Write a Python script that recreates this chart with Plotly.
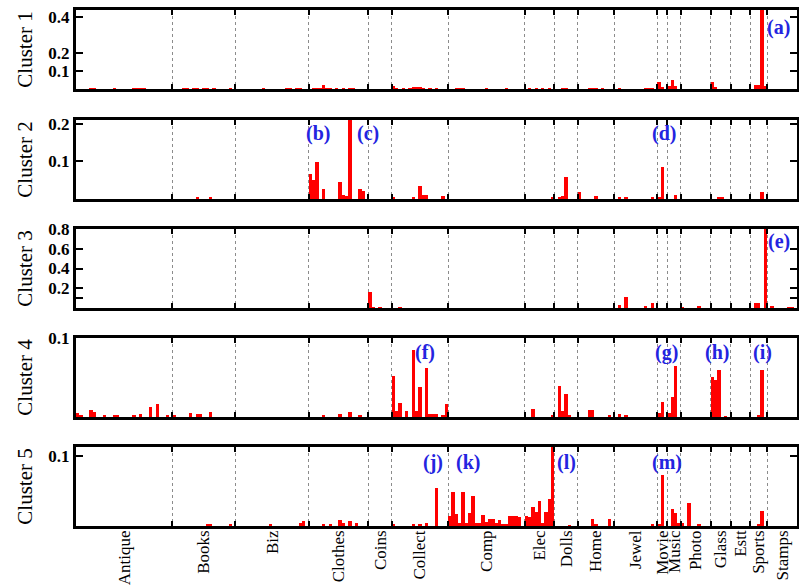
import numpy as np
import plotly.graph_objects as go

# Top-level categories and how many sub-categories each one spans
categories = ["Antique", "Books", "Biz", "Clothes", "Coins", "Collect", "Comp", "Elec",
              "Dolls", "Home", "Jewel", "Movie", "Music", "Photo", "Glass", "Estt",
              "Sports", "Stamps"]
cat_sizes = [29, 19, 22, 18, 7, 17, 23, 9, 7, 11, 13, 3, 4, 9, 6, 6, 5, 9]

# Per-cluster share of each sub-category (sparse: index -> share)
c1_idx = [4, 5, 11, 17, 18, 19, 20, 32, 33, 35, 36, 38, 39, 41, 46, 56, 63, 64, 66, 67,
          71, 72, 73, 74, 75, 76, 78, 80, 82, 83, 95, 96, 98, 100, 101, 102, 103, 104, 106, 108,
          114, 115, 116, 123, 129, 136, 138, 140, 142, 146, 147, 154, 155, 156, 158,
          163, 171, 172, 173, 175, 176, 178, 179, 180, 191, 192, 204, 205, 206, 207]
c1_val = [0.003, 0.003, 0.003, 0.003, 0.003, 0.003, 0.003, 0.004, 0.004, 0.004, 0.004, 0.004, 0.004, 0.003,
          0.003, 0.003, 0.003, 0.003, 0.003, 0.003,
          0.004, 0.004, 0.004, 0.025, 0.005, 0.004, 0.004, 0.004, 0.004, 0.004,
          0.015, 0.004, 0.004, 0.005, 0.006, 0.008, 0.006, 0.004, 0.004, 0.003,
          0.003, 0.003, 0.003, 0.003, 0.003, 0.003, 0.003, 0.003, 0.003, 0.003, 0.003,
          0.003, 0.003, 0.003, 0.003,
          0.003, 0.003, 0.003, 0.003, 0.040, 0.012, 0.015, 0.052, 0.015, 0.040, 0.010,
          0.020, 0.020, 0.460, 0.015]

c2_idx = [36, 40, 70, 71, 72, 74, 79, 80, 81, 82, 85, 86, 95, 101, 103, 104, 105, 110,
          143, 145, 146, 147, 151, 156, 163, 165, 173, 175, 176, 180, 193, 194, 206]
c2_val = [0.005, 0.005, 0.066, 0.050, 0.098, 0.026, 0.045, 0.010, 0.008, 0.250, 0.026, 0.020,
          0.005, 0.005, 0.035, 0.010, 0.010, 0.008,
          0.004, 0.006, 0.008, 0.058, 0.019, 0.008, 0.006, 0.005, 0.003, 0.003, 0.085, 0.010,
          0.005, 0.004, 0.019]

c3_idx = [88, 89, 91, 97, 163, 165, 171, 173, 182, 187, 204, 205, 207, 209, 214, 215]
c3_val = [0.165, 0.010, 0.010, 0.005, 0.035, 0.113, 0.015, 0.050, 0.010, 0.012,
          0.050, 0.050, 0.850, 0.020, 0.010, 0.010]

c4_idx = [0, 1, 4, 5, 8, 11, 12, 17, 19, 22, 24, 27, 29, 34, 36, 37, 40, 74, 79, 82, 85,
          95, 96, 97, 99, 101, 102, 103, 105, 106, 107, 108, 110, 111, 137, 143,
          145, 146, 147, 148, 154, 155, 160, 163, 165, 175, 176, 178, 179, 180,
          191, 192, 193, 195, 205, 206]
c4_val = [0.0055, 0.002, 0.009, 0.006, 0.003, 0.003, 0.003, 0.003, 0.004, 0.013, 0.017, 0.003,
          0.002, 0.005, 0.004, 0.004, 0.006, 0.002, 0.004, 0.006, 0.003,
          0.052, 0.008, 0.018, 0.007, 0.085, 0.007, 0.038, 0.062, 0.004, 0.004, 0.004, 0.003, 0.016,
          0.010, 0.002, 0.039, 0.008, 0.029, 0.002, 0.009, 0.009, 0.003, 0.004, 0.003,
          0.005, 0.019, 0.005, 0.025, 0.064, 0.051, 0.047, 0.060, 0.001, 0.003, 0.059]

c5_idx = [39, 40, 46, 58, 67, 68, 74, 76, 79, 80, 82, 84, 95, 101, 103, 105, 108,
          112, 113, 114, 115, 116, 117, 118, 119, 120, 121, 122, 123, 124, 125, 126, 127,
          128, 129, 130, 131, 132, 133, 135, 136, 137, 138, 139, 140, 141, 142, 143,
          148, 155, 156, 160, 173, 175, 176, 179, 180, 181, 182, 184, 187, 205, 206]
c5_val = [0.003, 0.003, 0.002, 0.002, 0.004, 0.007, 0.002, 0.002, 0.009, 0.004, 0.007, 0.004,
          0.003, 0.003, 0.002, 0.004, 0.054,
          0.014, 0.049, 0.017, 0.004, 0.048, 0.005, 0.019, 0.043, 0.005, 0.004, 0.016, 0.006,
          0.010, 0.010, 0.004, 0.009, 0.002, 0.002, 0.014, 0.014, 0.014, 0.013,
          0.015, 0.013, 0.027, 0.020, 0.036, 0.005, 0.020, 0.039, 0.120,
          0.001, 0.010, 0.003, 0.010, 0.002, 0.003, 0.073, 0.024, 0.019, 0.004,
          0.004, 0.033, 0.002, 0.003, 0.021]

cluster_names = ["Cluster 1", "Cluster 2", "Cluster 3", "Cluster 4", "Cluster 5"]
y_max = [0.44, 0.21, 0.80, 0.10, 0.113]
y_tickvals = [[0.1, 0.2, 0.4], [0.1, 0.2], [0.1, 0.2, 0.4, 0.6, 0.8], [0.1], [0.1]]
y_ticktext = [["0.1", "0.2", "0.4"], ["0.1", "0.2"], ["", "0.2", "0.4", "0.6", "0.8"], ["0.1"], ["0.1"]]

# Panel labels: (cluster, sub-category position, height)
labels = ["(a)", "(b)", "(c)", "(d)", "(e)", "(f)", "(g)", "(h)", "(i)", "(j)", "(k)", "(l)", "(m)"]
label_cluster = [0, 1, 1, 1, 2, 3, 3, 3, 3, 4, 4, 4, 4]
label_x = [211.3, 72.8, 87.9, 177.0, 211.6, 105.0, 177.6, 193.0, 206.5, 107.5, 118.0, 147.5, 178.0]
label_y = [0.344, 0.173, 0.173, 0.173, 0.67, 0.082, 0.082, 0.082, 0.082, 0.091, 0.091, 0.091, 0.091]

series = [(c1_idx, c1_val), (c2_idx, c2_val), (c3_idx, c3_val), (c4_idx, c4_val), (c5_idx, c5_val)]

bounds = np.concatenate([[0], np.cumsum(cat_sizes)])
n_sub = int(bounds[-1])
centers = (bounds[:-1] + bounds[1:]) / 2.0

W, H = 799, 588
ML, MR, MT, MB = 76, 2, 10, 62
panel_h = 79
panel_tops = [10, 120, 229, 338, 447]
plot_h = H - MT - MB

SERIF = "Liberation Serif, Times New Roman, serif"
BLUE = "#2424e0"

fig = go.Figure()
layout = {}
for k, (idx, val) in enumerate(series):
    xn = "x" if k == 0 else f"x{k + 1}"
    yn = "y" if k == 0 else f"y{k + 1}"
    fig.add_trace(go.Bar(
        x=np.array(idx) + 0.5, y=val, width=1.0,
        marker=dict(color="#ff0000", line=dict(width=0)),
        xaxis=xn, yaxis=yn, showlegend=False, hoverinfo="skip",
    ))
    top_px = panel_tops[k]
    bot_px = top_px + panel_h
    dom = [(H - MB - bot_px) / plot_h, (H - MB - top_px) / plot_h]
    # category boundaries: inside ticks top and bottom plus dotted separators
    layout["xaxis" if k == 0 else f"xaxis{k + 1}"] = dict(
        domain=[0, 1], anchor=yn, range=[0, n_sub], fixedrange=True,
        showline=True, linewidth=3, linecolor="black", mirror="ticks",
        tickmode="array", tickvals=bounds[1:-1], showticklabels=False,
        ticks="inside", ticklen=5, tickwidth=2, tickcolor="black",
        showgrid=True, gridcolor="#8c8c8c", griddash="dot", gridwidth=1,
        zeroline=False, automargin=False,
    )
    layout["yaxis" if k == 0 else f"yaxis{k + 1}"] = dict(
        domain=dom, anchor=xn, range=[0, y_max[k]], fixedrange=True,
        showline=True, linewidth=3, linecolor="black", mirror="ticks",
        tickmode="array", tickvals=y_tickvals[k], ticktext=y_ticktext[k],
        ticks="inside", ticklen=7, tickwidth=2, tickcolor="black",
        tickfont=dict(family=SERIF, size=17, color="black", weight="bold"),
        showgrid=False, zeroline=False, automargin=False,
        title=dict(text=cluster_names[k], font=dict(family=SERIF, size=21, color="black"),
                   standoff=10),
    )

# category names under the bottom panel, centred on each block
fig.add_trace(go.Scatter(
    x=centers, y=[0] * len(centers), mode="markers", marker=dict(opacity=0),
    xaxis="x6", yaxis="y5", showlegend=False, hoverinfo="skip",
))
layout["xaxis6"] = dict(
    overlaying="x5", anchor="y5", side="bottom", range=[0, n_sub], fixedrange=True,
    tickmode="array", tickvals=centers, ticktext=categories, ticks="",
    tickangle=-90, tickfont=dict(family=SERIF, size=17, color="black"),
    showline=False, showgrid=False, zeroline=False, automargin=False,
)

annotations = []
for t, c, xv, yv in zip(labels, label_cluster, label_x, label_y):
    annotations.append(dict(
        text=t, x=xv, y=yv, xref="x" if c == 0 else f"x{c + 1}",
        yref="y" if c == 0 else f"y{c + 1}", showarrow=False,
        font=dict(family=SERIF, size=20, color=BLUE, weight="bold"),
        xanchor="center", yanchor="middle",
    ))

fig.update_layout(
    **layout,
    annotations=annotations,
    width=W, height=H,
    margin=dict(l=ML, r=MR, t=MT, b=MB, autoexpand=False),
    paper_bgcolor="white", plot_bgcolor="white",
    bargap=0,
)

fig.write_html("out.html")
